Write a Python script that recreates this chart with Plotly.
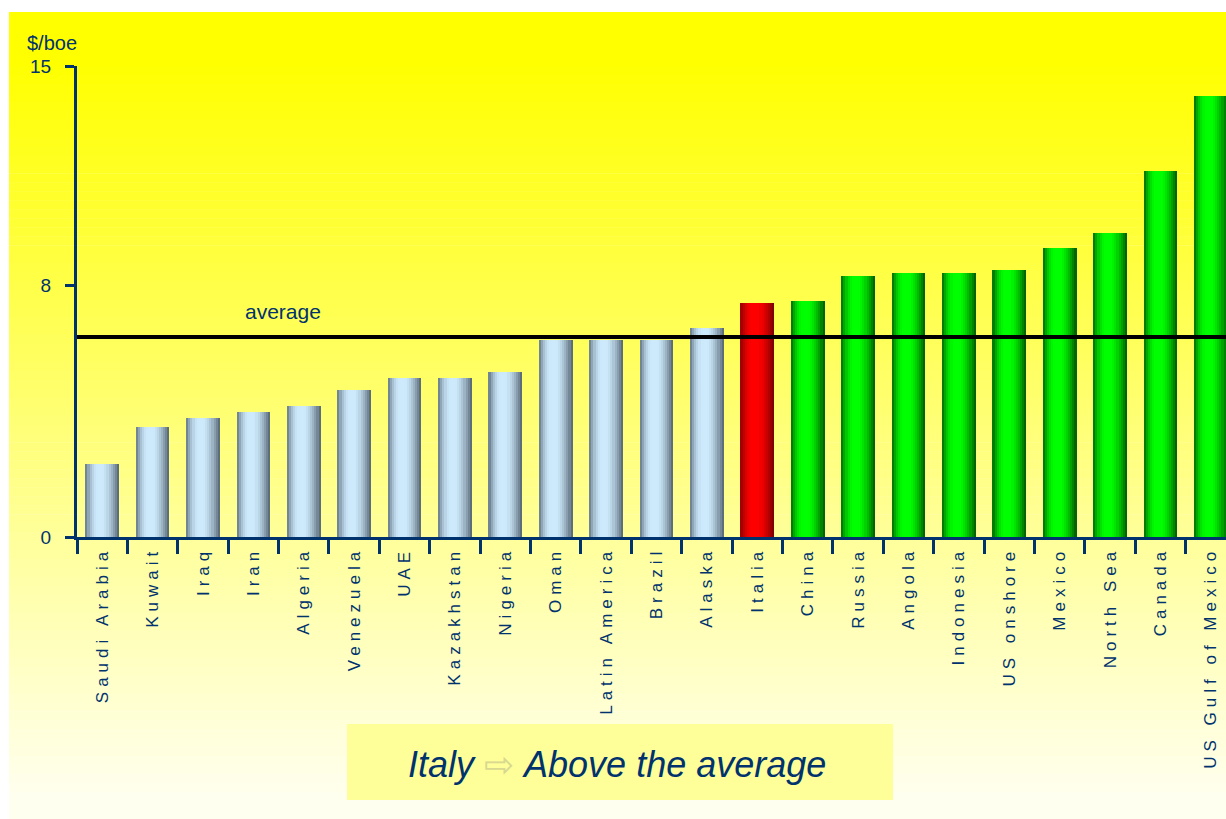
import plotly.graph_objects as go

# ---------------- data ----------------
categories = ["Saudi Arabia", "Kuwait", "Iraq", "Iran", "Algeria", "Venezuela", "UAE",
              "Kazakhstan", "Nigeria", "Oman", "Latin America", "Brazil", "Alaska",
              "Italia", "China", "Russia", "Angola", "Indonesia", "US onshore",
              "Mexico", "North Sea", "Canada", "US Gulf of Mexico"]
values = [2.32, 3.50, 3.79, 3.98, 4.17, 4.68, 5.06, 5.06, 5.25, 6.27, 6.27, 6.27, 6.66,
          7.45, 7.52, 8.31, 8.41, 8.41, 8.50, 9.20, 9.68, 11.66, 14.04]
groups = ["grey"] * 13 + ["italy"] + ["green"] * 9
average_value = 6.37
y_tickvals = [0, 8, 15]
y_ticktext = ["0", "8", "15"]
y_unit = "$/boe"
avg_label = "average"

# ---------------- styling ----------------
W, H = 1226, 819
ML, MR, MT, MB = 77, 0, 66, 282
PLOT_H = H - MT - MB
PLOT_W = W - ML - MR
NAVY = "#00336E"

def py(ypx):
    return (H - MB - ypx) / PLOT_H

def px(xpx):
    return (xpx - ML) / PLOT_W

# colour profiles: (left edge, highlight, right edge)
profiles = {
    "grey": ((96, 114, 130), (205, 234, 252), (80, 96, 110)),
    "italy": ((145, 0, 0), (255, 0, 0), (115, 0, 0)),
    "green": ((0, 100, 0), (0, 255, 0), (0, 85, 0)),
}

def brightness(t):
    if t < 0.38:
        s = t / 0.38
        return 1 - (1 - s) ** 2
    if t < 0.5:
        return 1.0
    s = (t - 0.5) / 0.5
    return 1 - s ** 1.6

def strip_color(group, t):
    left, light, right = profiles[group]
    edge = left if t < 0.44 else right
    p = brightness(t)
    c = [round(edge[k] + p * (light[k] - edge[k])) for k in range(3)]
    return "rgb(%d,%d,%d)" % tuple(c)

fig = go.Figure()
BAR_W = 0.67
N = 16
step = BAR_W / N
for i in range(N):
    t = (i + 0.5) / N
    wid = step * 1.25 if i < N - 1 else step
    fig.add_trace(go.Bar(
        x=categories, y=values,
        offset=-BAR_W / 2 + i * step, width=wid,
        marker=dict(color=[strip_color(g, t) for g in groups], line=dict(width=0)),
        hoverinfo="x+y" if i == N // 2 else "skip",
        showlegend=False,
    ))

# background gradient bands
shapes = []
top_px, bot_px = 12, H
nb = 90
for k in range(nb):
    y0 = top_px + (bot_px - top_px) * k / nb
    y1 = top_px + (bot_px - top_px) * (k + 1) / nb
    ym = (y0 + y1) / 2
    b = max(0, min(240, (ym - 60) / 740 * 240))
    shapes.append(dict(type="rect", xref="paper", yref="paper", layer="below",
                       x0=px(9), x1=1.0, y0=py(y1) - 0.001, y1=py(y0),
                       fillcolor="rgb(255,255,%d)" % round(b), line=dict(width=0)))
# headline box
shapes.append(dict(type="rect", xref="paper", yref="paper", layer="below",
                   x0=px(347), x1=px(893), y0=py(800), y1=py(724),
                   fillcolor="#FFFF99", line=dict(width=0)))
# average line
shapes.append(dict(type="line", xref="paper", yref="y", layer="above",
                   x0=0, x1=1, y0=average_value, y1=average_value,
                   line=dict(color="black", width=4)))

annotations = [
    dict(text=y_unit, xref="paper", yref="paper", x=px(52), y=py(43),
         xanchor="center", yanchor="middle", showarrow=False,
         font=dict(family="Liberation Sans, Arial", size=20, color=NAVY)),
    dict(text=avg_label, xref="paper", yref="paper", x=px(283), y=py(311),
         xanchor="center", yanchor="middle", showarrow=False,
         font=dict(family="Liberation Sans, Arial", size=21, color=NAVY)),
    dict(text="<i>Italy</i> <span style='color:#D8D890'>⇨</span> <i>Above the average</i>",
         xref="paper", yref="paper", x=px(617), y=py(764),
         xanchor="center", yanchor="middle", showarrow=False,
         font=dict(family="Liberation Sans, Arial", size=36, color=NAVY)),
]

ticktext = ["<span style='letter-spacing:5px'>%s</span>" % c for c in categories]

fig.update_layout(
    width=W, height=H,
    margin=dict(l=ML, r=MR, t=MT, b=MB, pad=0),
    paper_bgcolor="white", plot_bgcolor="rgba(0,0,0,0)",
    barmode="overlay", bargap=0,
    shapes=shapes, annotations=annotations,
    font=dict(family="Liberation Sans, Arial", color=NAVY),
    xaxis=dict(type="category", range=[-0.5, 22.3], showgrid=False, zeroline=False,
               showline=True, linecolor=NAVY, linewidth=3,
               ticks="outside", tickson="boundaries", ticklen=14, tickwidth=3, tickcolor=NAVY,
               tickangle=-90, tickvals=categories, ticktext=ticktext,
               tickfont=dict(size=17, color=NAVY, family="Liberation Sans, Arial")),
    yaxis=dict(range=[0, 15], showgrid=False, zeroline=False,
               showline=True, linecolor=NAVY, linewidth=3,
               ticks="outside", ticklen=9, tickwidth=3, tickcolor=NAVY,
               tickvals=y_tickvals, ticktext=y_ticktext, ticklabelstandoff=10,
               tickfont=dict(size=19, color=NAVY, family="Liberation Sans, Arial")),
)

fig.write_html("out.html")
